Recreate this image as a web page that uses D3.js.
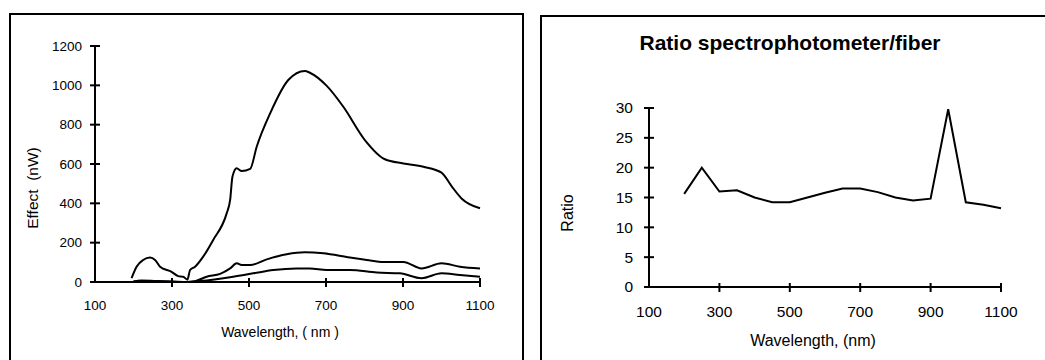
<html>
<head>
<script src="https://d3js.org/d3.v7.min.js"></script>
<style>
    body { margin: 0; background: #fff; }
    text { font-family: 'Liberation Sans', Arial, sans-serif; fill: #000; white-space: pre; }
</style>
</head>
<body>
<div id="chart"></div>
<script>
// left panel: three power curves (nW) vs wavelength
var effectTicksX = [100, 300, 500, 700, 900, 1100];
var effectTicksY = [0, 200, 400, 600, 800, 1000, 1200];

var topWl  = [195, 208, 225, 243, 256, 269, 299, 316, 329, 340, 347, 360, 381, 407, 442, 451, 457, 468, 481, 503, 520, 555, 602, 645, 658, 702, 745, 801, 853, 901, 953, 1000, 1027, 1052, 1100];
var topVal = [20, 78, 112, 124, 112, 78, 52, 30, 27, 12, 61, 78, 129, 214, 349, 417, 535, 578, 564, 575, 688, 858, 1027, 1073, 1064, 997, 891, 722, 624, 603, 586, 556, 485, 425, 375];

var midWl  = [200, 220, 260, 300, 340, 360, 390, 425, 451, 468, 481, 503, 546, 598, 645, 693, 762, 806, 849, 901, 948, 1000, 1048, 1100];
var midVal = [3, 8, 5, 3, 0, 4, 27, 41, 69, 95, 86, 86, 115, 141, 151, 146, 124, 112, 102, 102, 69, 95, 78, 69];

var lowWl  = [200, 230, 280, 340, 373, 459, 511, 563, 624, 658, 702, 762, 832, 892, 948, 1000, 1048, 1100];
var lowVal = [2, 5, 3, 0, 5, 27, 44, 61, 69, 69, 61, 61, 48, 44, 19, 44, 35, 27];

// right panel: ratio spectrophotometer/fiber
var ratioTicksX = [100, 300, 500, 700, 900, 1100];
var ratioTicksY = [0, 5, 10, 15, 20, 25, 30];
var ratioWl  = [200, 250, 300, 350, 400, 450, 500, 550, 600, 650, 700, 750, 800, 850, 900, 950, 1000, 1050, 1100];
var ratioVal = [15.6, 20, 16, 16.2, 15, 14.2, 14.2, 15, 15.8, 16.5, 16.5, 15.9, 15, 14.5, 14.8, 29.8, 14.2, 13.8, 13.2];

var svg = d3.select("#chart").append("svg")
    .attr("width", 1045)
    .attr("height", 360);

// panel frames
svg.append("rect").attr("x", 10).attr("y", 14).attr("width", 513).attr("height", 360)
    .attr("fill", "none").attr("stroke", "#000").attr("stroke-width", 2);
svg.append("rect").attr("x", 541).attr("y", 16).attr("width", 520).attr("height", 360)
    .attr("fill", "none").attr("stroke", "#000").attr("stroke-width", 2);

function axes(g, xs, ys, xt, yt, fs, gap) {
    // axis lines
    g.append("line").attr("x1", xs.range()[0]).attr("x2", xs.range()[1])
        .attr("y1", ys(0)).attr("y2", ys(0)).attr("stroke", "#000").attr("stroke-width", 2);
    g.append("line").attr("x1", xs.range()[0]).attr("x2", xs.range()[0])
        .attr("y1", ys.range()[0]).attr("y2", ys.range()[1]).attr("stroke", "#000").attr("stroke-width", 2);
    // crossing ticks
    g.selectAll(".xt").data(xt.slice(1)).enter().append("line")
        .attr("x1", d => xs(d)).attr("x2", d => xs(d))
        .attr("y1", ys(0) - 4).attr("y2", ys(0) + 5)
        .attr("stroke", "#000").attr("stroke-width", 2);
    g.selectAll(".yt").data(yt).enter().append("line")
        .attr("x1", xs.range()[0] - 5).attr("x2", xs.range()[0] + 5)
        .attr("y1", d => ys(d)).attr("y2", d => ys(d))
        .attr("stroke", "#000").attr("stroke-width", 2);
    g.selectAll(".xl").data(xt).enter().append("text")
        .attr("x", d => xs(d)).attr("y", ys(0) + fs + 14)
        .attr("text-anchor", "middle").style("font-size", fs + "px")
        .text(d => d);
    g.selectAll(".yl").data(yt).enter().append("text")
        .attr("x", xs.range()[0] - gap).attr("y", d => ys(d)).attr("dy", "0.35em")
        .attr("text-anchor", "end").style("font-size", fs + "px")
        .text(d => d);
}

// ---- left chart
var xL = d3.scaleLinear().domain([100, 1100]).range([95, 480]);
var yL = d3.scaleLinear().domain([0, 1200]).range([282, 46]);
var gL = svg.append("g");
axes(gL, xL, yL, effectTicksX, effectTicksY, 13.5, 13);

var lineL = d3.line().x(d => xL(d[0])).y(d => yL(d[1])).curve(d3.curveMonotoneX);
[[lowWl, lowVal], [midWl, midVal], [topWl, topVal]].forEach(function(s) {
    gL.append("path")
        .attr("d", lineL(d3.zip(s[0], s[1])))
        .attr("fill", "none").attr("stroke", "#000").attr("stroke-width", 2);
});

gL.append("text").attr("x", 280).attr("y", 337).attr("text-anchor", "middle")
    .style("font-size", "14px").text("Wavelength, ( nm )");
gL.append("text").attr("transform", "translate(38,188) rotate(-90)").attr("text-anchor", "middle")
    .style("font-size", "15.5px").text("Effect  (nW)");

// ---- right chart
var xR = d3.scaleLinear().domain([100, 1100]).range([649, 1001]);
var yR = d3.scaleLinear().domain([0, 30]).range([287, 108]);
var gR = svg.append("g");
axes(gR, xR, yR, ratioTicksX, ratioTicksY, 15.5, 16);

var lineR = d3.line().x(d => xR(d[0])).y(d => yR(d[1]));
gR.append("path")
    .attr("d", lineR(d3.zip(ratioWl, ratioVal)))
    .attr("fill", "none").attr("stroke", "#000").attr("stroke-width", 2);

gR.append("text").attr("x", 790).attr("y", 50).attr("text-anchor", "middle")
    .style("font-size", "21px").style("font-weight", "bold").text("Ratio spectrophotometer/fiber");
gR.append("text").attr("x", 813).attr("y", 346).attr("text-anchor", "middle")
    .style("font-size", "16px").text("Wavelength, (nm)");
gR.append("text").attr("transform", "translate(573,213) rotate(-90)").attr("text-anchor", "middle")
    .style("font-size", "16px").text("Ratio");
</script>
</body>
</html>
